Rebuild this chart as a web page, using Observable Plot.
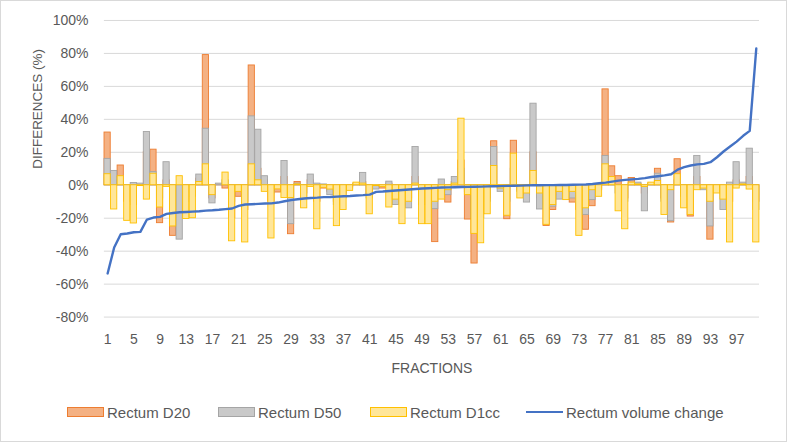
<!DOCTYPE html>
<html><head><meta charset="utf-8">
<script src="https://cdn.jsdelivr.net/npm/d3@7"></script>
<script src="https://cdn.jsdelivr.net/npm/@observablehq/plot@0.6"></script>
<style>
html,body{margin:0;padding:0;background:#fff;}
#wrap{position:relative;width:787px;height:442px;box-sizing:border-box;border:1px solid #d9d9d9;overflow:hidden;font-family:"Liberation Sans",Arial,sans-serif;}
#chart{position:absolute;left:-1px;top:-1px;}
.item{position:absolute;top:401px;height:20px;display:flex;align-items:center;gap:3px;font-size:15px;color:#595959;white-space:nowrap;}
.sw{width:37px;height:10px;box-sizing:border-box;border:1px solid;}
.ln{width:37px;height:2.5px;background:#4472C4;}
</style></head>
<body>
<div id="wrap"><div id="chart"></div>
<div class="item" style="left:66px"><div class="sw" style="background:#F4B183;border-color:#ED7D31"></div><span>Rectum D20</span></div>
<div class="item" style="left:217px"><div class="sw" style="background:#C9C9C9;border-color:#A5A5A5"></div><span>Rectum D50</span></div>
<div class="item" style="left:369px"><div class="sw" style="background:#FFE699;border-color:#FFC000"></div><span>Rectum D1cc</span></div>
<div class="item" style="left:525px"><div class="ln"></div><span>Rectum volume change</span></div>
</div>
<script>
const fractions = d3.range(1, 101);
const d20 = [32,5,12,-10,-12,0,20,21.6,-23,3,
 -30.7,-20,-8,-5,4,79,-8,0.5,-2,-20,
 -7,-15,72.7,10,3,-10,-4.4,5,-29.7,2,
 -5,3,-10,-2,-4,-10,-5,-1,1,2,
 -6,0,-2,1,-5,-10,-8,5,-10,-10,
 -34.5,-4,-10.5,2,15,-20.8,-47.5,-15,-8,26.7,
 -1,-20.6,27,-3,-6,20,-8,-24.7,-15,-6,
 -3,-10.5,-15,-27,-12.7,-2,58.2,11.5,5.5,-8,
 4.4,1,-5,1,10,-8,-22.6,15.8,-5,-19,
 5,-2,-33,-2,-5,-10,3,1,5,-10];
const d50 = [16,8.7,3,-5,1.4,1,32.3,8,-8,14,
 -15,-33,-10,-7,6.5,34.3,-11,1,3,-10,
 -3,-10,41.8,33.7,5.5,-5,-1,14.7,-23.6,1,
 -8,6.5,1,0.5,-6,-12,-8,-2,1,7.5,
 -8,-2.6,-1,2.2,-12,-12,-14,23.2,-12,-12,
 -14.5,3.5,-6,5,10,-4,-20,-20,-10,23.2,
 -4,-10,10,-4,-10.5,49.5,-14.7,-12,-13,-8.7,
 -5,-8,-12,-18,-9,-3,17.8,3,-5,-10,
 1,1.6,-15.8,1,7,-10,-21.8,3,-7,-8,
 17.8,-3,-25,-3,-15,1.6,14,1.6,22.2,-15];
const d1cc = [6.7,-14.7,5.5,-21.6,-23.2,-0.5,-8.7,7,-13.5,-1,
 -25,5.5,-20.5,-20,2,12.7,-6,0,7.7,-34,
 -4,-34.7,12.7,3,-4,-32.3,-2.5,-7.7,-7.7,0.5,
 -14,-1,-26.7,-1.5,-2.6,-24.8,-15,-3.4,1.6,1,
 -17.6,-0.5,-1,-13.5,-8.7,-23.6,-10,1,-23.6,-23.6,
 -10,-8.7,-3,1,40.4,-6,-29.5,-35.2,-17.6,11.7,
 -2,-18.5,19.2,-8,-5,8.7,-5,-24,-12,-4,
 -9,-4,-30.7,-14,-3,-7,12.7,5,-15.8,-26.7,
 1.6,0.5,-1,1.6,2.6,-18,-3,6.7,-14,-18,
 -3,-2,-10,-5,-8.7,-34.7,-2,0.5,-2.6,-34.7];
const volume = [-53.5,-37.8,-29.7,-29.3,-28.5,-28.3,-20.8,-19.6,-19.2,-17.4,
 -16.8,-16.4,-16.2,-16,-15.8,-15.4,-15.2,-14.9,-14.5,-14.1,
 -12.5,-11.7,-11.5,-11.3,-11.1,-11,-10.5,-9.7,-9,-8.5,
 -8,-7.7,-7.5,-7.2,-7.1,-6.9,-6.7,-6.5,-6.2,-6,
 -5.7,-4,-3.8,-3.5,-3.2,-2.9,-2.6,-2.3,-2,-1.8,
 -1.6,-1.4,-1.3,-1.2,-1.1,-1,-0.9,-0.8,-0.7,-0.6,
 -0.5,-0.4,-0.3,-0.2,-0.1,0,0,0.1,0.1,0.2,
 0.2,0.3,0.4,0.5,0.8,1.2,1.6,2.2,2.8,3.3,
 3.6,3.9,4.3,5,5.5,6,6.7,9.5,11,12,
 12.7,13,14,17,20.5,23.5,26.5,30,33,83];
const yTicks = [-80,-60,-40,-20,0,20,40,60,80,100];
const xTickLabels = fractions.filter(f => (f - 1) % 4 === 0);
const seriesNames = ["Rectum D20","Rectum D50","Rectum D1cc","Rectum volume change"];

const rows = fractions.map((f, i) => ({f, d20: d20[i], d50: d50[i], d1cc: d1cc[i], vol: volume[i]}));

const chart = Plot.plot({
  width: 787, height: 386,
  marginLeft: 104, marginRight: 27, marginTop: 20, marginBottom: 69,
  style: {fontFamily: "'Liberation Sans', Arial, sans-serif", fontSize: "14px", color: "#595959", background: "transparent"},
  x: {type: "band", domain: fractions, paddingInner: 0.05, paddingOuter: 0.02, ticks: xTickLabels, tickSize: 0, tickPadding: 17, label: null},
  y: {domain: [-80, 100], ticks: yTicks, tickFormat: d => d + "%", tickSize: 0, tickPadding: 16, label: null},
  marks: [
    Plot.ruleY(yTicks, {stroke: "#d9d9d9", strokeWidth: 1}),
    Plot.barY(rows, {x: "f", y: "d20", fill: "#F4B183", stroke: "#ED7D31", strokeWidth: 0.9}),
    Plot.barY(rows, {x: "f", y: "d50", fill: "#C9C9C9", stroke: "#A5A5A5", strokeWidth: 0.9}),
    Plot.barY(rows, {x: "f", y: "d1cc", fill: "#FFE699", stroke: "#FFC000", strokeWidth: 0.9}),
    Plot.lineY(rows, {x: "f", y: "vol", stroke: "#4472C4", strokeWidth: 2.4}),
    Plot.text(["FRACTIONS"], {frameAnchor: "bottom", dy: 56, fill: "#595959", fontSize: 14}),
    Plot.text(["DIFFERENCES (%)"], {frameAnchor: "left", dx: -67, rotate: -90, fill: "#595959", fontSize: 13.5})
  ]
});
document.getElementById("chart").appendChild(chart);
</script>
</body></html>
